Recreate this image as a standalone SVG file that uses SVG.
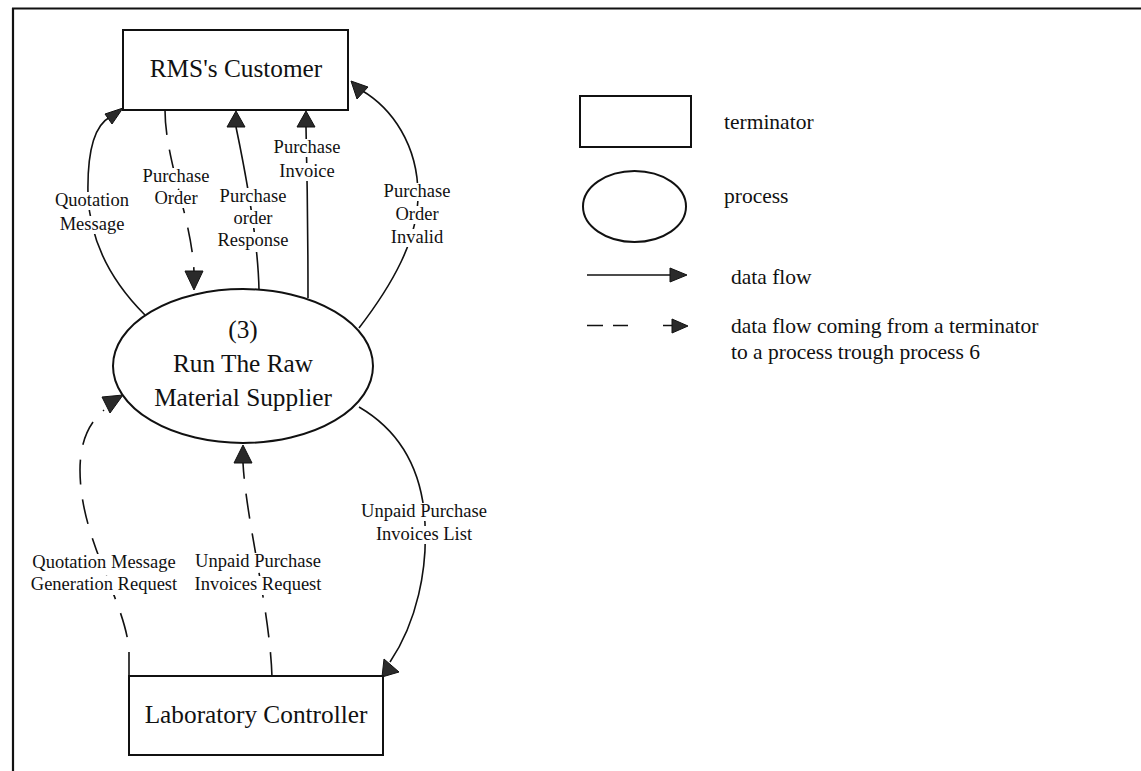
<svg xmlns="http://www.w3.org/2000/svg" width="1141" height="771" viewBox="0 0 1141 771">
  <style>
    .frame { stroke: #111; stroke-width: 2.2; fill: none; }
    .box { fill: #fff; stroke: #111; stroke-width: 2; }
    .flow { fill: none; stroke: #111; stroke-width: 1.6; }
    .dash { stroke-dasharray: 25 15; }
    .head { fill: #2a2a2a; stroke: #111; stroke-width: 1; stroke-linejoin: round; }
    .mask { fill: #fff; }
    .big { font-family: "Liberation Serif", "Times New Roman", serif; font-size: 25.3px; fill: #111; text-anchor: middle; }
    .lbl { font-family: "Liberation Serif", "Times New Roman", serif; font-size: 18.5px; fill: #111; text-anchor: middle; }
    .leg { font-family: "Liberation Serif", "Times New Roman", serif; font-size: 21.5px; fill: #111; }
  </style>

  <rect width="1141" height="771" fill="#fff"/>

  <!-- page frame: top and left rules -->
  <path class="frame" d="M12,8.5 H1141 M13,8 V771"/>

  <!-- data flows -->
  <g id="connectors">
    <!-- Quotation Message -->
    <path class="flow" d="M145,315 C112,282 90,242 88,195 C87,150 95,125 110,117"/>
    <polygon class="head" points="123,108 105,114 112,124"/>
    <!-- Purchase Order (dashed) -->
    <path class="flow dash" d="M165,110 C165,160 192,220 194,272"/>
    <polygon class="head" points="185,271 203,271 194,290"/>
    <!-- Purchase order Response -->
    <path class="flow" d="M259,290 C258,240 245,170 236,127"/>
    <polygon class="head" points="236,111 227,127 245,127"/>
    <!-- Purchase Invoice -->
    <path class="flow" d="M308,298 C308,230 307,170 306,127"/>
    <polygon class="head" points="306,111 297,127 315,127"/>
    <!-- Purchase Order Invalid -->
    <path class="flow" d="M359,328 C392,285 418,240 418,195 C418,145 392,108 361,90"/>
    <polygon class="head" points="351,81 368,87 357,99"/>
    <!-- Quotation Message Generation Request (dashed) -->
    <path class="flow dash" d="M129,677 L129,650 C125,600 80,540 80,470 C80,440 90,422 104,410"/>
    <polygon class="head" points="102,397 123,395 110,413"/>
    <!-- Unpaid Purchase Invoices Request (dashed) -->
    <path class="flow dash" d="M272,677 C270,610 246,520 243,463"/>
    <polygon class="head" points="243,445 234,463 252,463"/>
    <!-- Unpaid Purchase Invoices List -->
    <path class="flow" d="M359,407 C395,428 418,460 424,510 C430,570 415,625 390,662"/>
    <polygon class="head" points="384,659 399,672 382,677"/>
  </g>

  <!-- flow labels -->
  <g id="flow-labels">
    <rect class="mask" x="54" y="192" width="76" height="18"/>
    <rect class="mask" x="59" y="216" width="66" height="18"/>
    <text class="lbl" x="92" y="206">Quotation</text>
    <text class="lbl" x="92" y="230">Message</text>

    <rect class="mask" x="142" y="168" width="68" height="18"/>
    <rect class="mask" x="154" y="190" width="44" height="18"/>
    <text class="lbl" x="176" y="182">Purchase</text>
    <text class="lbl" x="176" y="204">Order</text>

    <rect class="mask" x="219" y="188" width="68" height="18"/>
    <rect class="mask" x="233" y="210" width="40" height="18"/>
    <rect class="mask" x="217" y="232" width="72" height="20"/>
    <text class="lbl" x="253" y="202">Purchase</text>
    <text class="lbl" x="253" y="224">order</text>
    <text class="lbl" x="253" y="246">Response</text>

    <rect class="mask" x="273" y="139" width="68" height="18"/>
    <rect class="mask" x="279" y="163" width="56" height="18"/>
    <text class="lbl" x="307" y="153">Purchase</text>
    <text class="lbl" x="307" y="177">Invoice</text>

    <rect class="mask" x="383" y="183" width="68" height="18"/>
    <rect class="mask" x="395" y="206" width="44" height="18"/>
    <rect class="mask" x="391" y="229" width="54" height="18"/>
    <text class="lbl" x="417" y="197">Purchase</text>
    <text class="lbl" x="417" y="220">Order</text>
    <text class="lbl" x="417" y="243">Invalid</text>

    <rect class="mask" x="32" y="554" width="146" height="18"/>
    <rect class="mask" x="32" y="576" width="146" height="19"/>
    <text class="lbl" x="104" y="568">Quotation Message</text>
    <text class="lbl" x="104" y="590">Generation Request</text>

    <rect class="mask" x="195" y="553" width="127" height="18"/>
    <rect class="mask" x="194" y="576" width="129" height="19"/>
    <text class="lbl" x="258" y="567">Unpaid Purchase</text>
    <text class="lbl" x="258" y="590">Invoices Request</text>

    <rect class="mask" x="361" y="503" width="127" height="18"/>
    <rect class="mask" x="375" y="526" width="99" height="18"/>
    <text class="lbl" x="424" y="517">Unpaid Purchase</text>
    <text class="lbl" x="424" y="540">Invoices List</text>
  </g>

  <!-- terminators and process -->
  <g id="rms-customer">
    <rect class="box" x="123" y="30" width="225" height="80"/>
    <text class="big" x="236" y="77">RMS's Customer</text>
  </g>

  <g id="process-3">
    <ellipse class="box" cx="243" cy="366" rx="130" ry="77"/>
    <text class="big" x="243" y="338">(3)</text>
    <text class="big" x="243" y="372">Run The Raw</text>
    <text class="big" x="243" y="406">Material Supplier</text>
  </g>

  <g id="laboratory-controller">
    <rect class="box" x="129" y="676" width="254" height="79"/>
    <text class="big" x="256" y="723">Laboratory Controller</text>
  </g>

  <!-- key -->
  <g id="legend">
    <rect class="box" x="580" y="96" width="111" height="51"/>
    <text class="leg" x="724" y="129">terminator</text>

    <ellipse class="box" cx="634.5" cy="206.5" rx="51.5" ry="35.5"/>
    <text class="leg" x="724" y="203">process</text>

    <line class="flow" x1="587" y1="275" x2="672" y2="275"/>
    <polygon class="head" points="670,268 687,275 670,282"/>
    <text class="leg" x="731" y="284">data flow</text>

    <path class="flow" d="M587,325.5 H603 M613,325.5 H628 M663,325.5 H673"/>
    <polygon class="head" points="672,319 688,326 672,333"/>
    <text class="leg" x="731" y="333">data flow coming from a terminator</text>
    <text class="leg" x="731" y="359">to a process trough process 6</text>
  </g>
</svg>
